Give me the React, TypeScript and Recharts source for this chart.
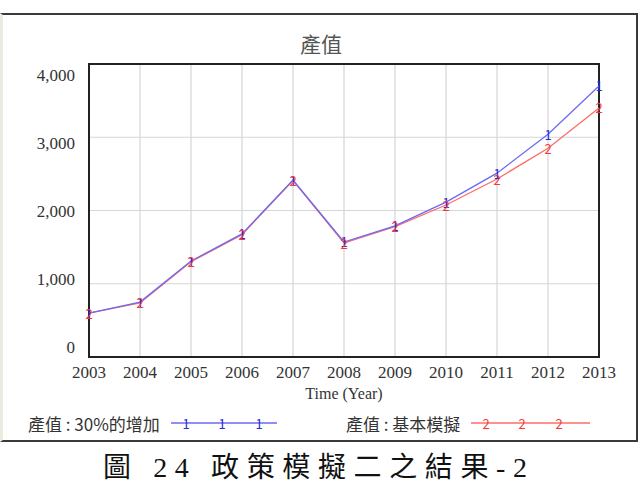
import React from 'react';
import { LineChart, Line, XAxis, YAxis, CartesianGrid, ReferenceArea } from 'recharts';

const title = '產值';
const years = [2003, 2004, 2005, 2006, 2007, 2008, 2009, 2010, 2011, 2012, 2013];
const increase30 = [600, 750, 1310, 1680, 2415, 1570, 1790, 2115, 2510, 3040, 3700];
const baseline = [600, 740, 1300, 1670, 2410, 1555, 1780, 2075, 2430, 2850, 3400];
const yTicks = [0, 1000, 2000, 3000, 4000];
const seriesNames = ['產值 : 30%的增加', '產值 : 基本模擬'];
const seriesMarks = ['1', '2'];
const xAxisTitle = 'Time (Year)';
const caption = '圖 24 政策模擬二之結果-2';

const lineColors = ['#6a6af5', '#ff6b6b'];
const markColors = ['#2a2ad8', '#f03a3a'];

const data = years.map((y, i) => ({ year: y, a: increase30[i], b: baseline[i] }));

const serif = '"Liberation Serif", "Times New Roman", serif';
const sans = '"Noto Sans CJK TC", "Noto Sans", sans-serif';

const makeDot = (mark: string, color: string) => (props: any) => {
  const { cx, cy, index } = props;
  if (cx == null || cy == null) return <g key={`d${mark}${index}`} />;
  return (
    <text
      key={`d${mark}${index}`}
      x={cx}
      y={cy}
      textAnchor="middle"
      dominantBaseline="central"
      fontSize={13}
      fontFamily={sans}
      fill={color}
    >
      {mark}
    </text>
  );
};

const LegendItem = ({ i, left }: { i: number; left: number }) => (
  <div style={{ position: 'absolute', left, top: 412, height: 22, display: 'flex', alignItems: 'center' }}>
    <span style={{ fontFamily: sans, fontSize: 17, color: '#333', whiteSpace: 'nowrap' }}>
      {seriesNames[i]}
    </span>
    <svg width={120} height={22} style={{ marginLeft: 11 }}>
      <line x1={0} y1={11} x2={i === 0 ? 106 : 119} y2={11} stroke={lineColors[i]} strokeWidth={1.5} />
      {[15, 51, 88].map((p) => (
        <text key={p} x={p} y={11} textAnchor="middle" dominantBaseline="central" fontSize={13} fontFamily={sans} fill={markColors[i]}>
          {seriesMarks[i]}
        </text>
      ))}
    </svg>
  </div>
);

export default function App() {
  return (
    <div style={{ position: 'absolute', left: 0, top: 0, width: 642, height: 490, background: '#fff', overflow: 'hidden' }}>
      <div
        style={{
          position: 'absolute',
          left: 0,
          top: 13,
          width: 638,
          height: 429,
          boxSizing: 'border-box',
          borderTop: '2px solid #3a3a3a',
          borderRight: '2px solid #3a3a3a',
          borderBottom: '2px solid #3a3a3a',
          borderLeft: '3px solid #ecebdf',
        }}
      />
      <div style={{ position: 'absolute', left: 0, width: 642, top: 28, textAlign: 'center' }}>
        <span style={{ fontFamily: sans, fontSize: 21, color: '#555' }}>{title}</span>
      </div>
      <div style={{ position: 'absolute', left: 0, top: 0 }}>
        <LineChart width={642} height={490} data={data} margin={{ top: 64, right: 43, left: 29, bottom: 103 }}>
          <CartesianGrid stroke="#d6d6d6" strokeWidth={1.2} />
          <XAxis
            dataKey="year"
            type="number"
            domain={[2003, 2013]}
            ticks={years}
            tickLine={false}
            axisLine={false}
            tickSize={0}
            tickMargin={9}
            height={30}
            tick={{ fontFamily: serif, fontSize: 17, fill: '#333' }}
          />
          <YAxis yAxisId={0} hide width={0} type="number" domain={[0, 4000]} ticks={yTicks} />
          <YAxis
            yAxisId="lab"
            type="number"
            domain={[-147, 4162]}
            ticks={yTicks}
            allowDataOverflow
            width={60}
            tickLine={false}
            axisLine={false}
            tickSize={0}
            tickMargin={14}
            tickFormatter={(v: number) => v.toLocaleString('en-US')}
            tick={{ fontFamily: serif, fontSize: 17, fill: '#333' }}
          />
          <ReferenceArea x1={2003} x2={2013} y1={0} y2={4000} yAxisId={0} fill="none" stroke="#222" strokeWidth={2} ifOverflow="visible" />
          <Line type="linear" dataKey="b" stroke={lineColors[1]} strokeWidth={1.3} dot={false} activeDot={false} isAnimationActive={false} />
          <Line
            type="linear"
            dataKey="a"
            stroke={lineColors[0]}
            strokeWidth={1.3}
            dot={makeDot(seriesMarks[0], markColors[0])}
            activeDot={false}
            isAnimationActive={false}
          />
          <Line
            type="linear"
            dataKey="b"
            stroke="none"
            dot={makeDot(seriesMarks[1], markColors[1])}
            activeDot={false}
            legendType="none"
            isAnimationActive={false}
          />
        </LineChart>
      </div>
      <div style={{ position: 'absolute', left: 89, width: 510, top: 385, textAlign: 'center', fontFamily: serif, fontSize: 16, color: '#333' }}>
        {xAxisTitle}
      </div>
      <LegendItem i={0} left={28} />
      <LegendItem i={1} left={346} />
      <svg style={{ position: 'absolute', left: 0, top: 448 }} width={642} height={40}>
        <text x={103} y={29} textLength={424} lengthAdjust="spacing" fontSize={28} fontFamily={'"Liberation Serif", "Noto Sans CJK TC", serif'} fill="#111">
          {caption}
        </text>
      </svg>
    </div>
  );
}
